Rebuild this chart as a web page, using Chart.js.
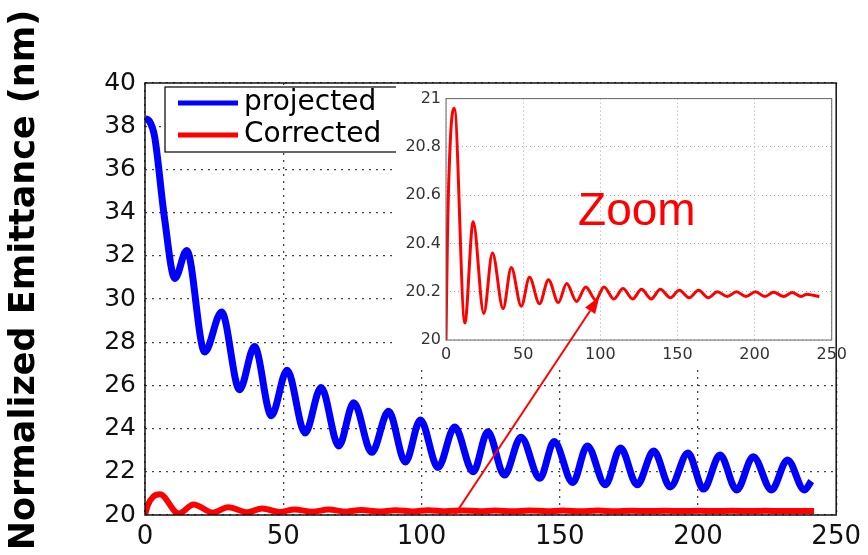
<!DOCTYPE html>
<html>
<head>
<meta charset="utf-8">
<script src="https://cdn.jsdelivr.net/npm/chart.js@4.4.1/dist/chart.umd.min.js"></script>
<style>
  html, body { margin: 0; padding: 0; background: #fff; }
  #wrap { position: relative; width: 868px; height: 555px; overflow: hidden; }
  #main { position: absolute; left: 0; top: 0; }
  #inset { position: absolute; left: 396px; top: 84px; background: #fff; }
  #overlay { position: absolute; left: 0; top: 0; pointer-events: none; }
</style>
</head>
<body>
<div id="wrap">
  <canvas id="main" width="868" height="555"></canvas>
  <canvas id="inset" width="456" height="283"></canvas>
  <canvas id="overlay" width="868" height="555"></canvas>
</div>
<script>
// values (peaks / troughs of each curve)
const projX = [0, 1.5, 3.5, 7, 10.8, 15.1, 21.6, 27.7, 34.2, 39.6, 45.7, 51.4, 57.9, 63.7, 70.1, 75.5, 82, 88.1, 94.2, 99.6,
  106, 112, 118.7, 124, 130, 136, 142.8, 148, 154.7, 160, 166.5, 172, 178, 184, 190, 196.4, 202, 208, 214, 220, 226.6, 232.4, 238.5, 241];
const projY = [38.35, 38.25, 37.5, 33.8, 30.95, 32.25, 27.55, 29.4, 25.8, 27.8, 24.6, 26.7, 23.8, 25.9, 23.2, 25.2, 22.9, 24.8, 22.45, 24.4,
  22.2, 24.07, 22.0, 23.85, 21.85, 23.6, 21.7, 23.4, 21.5, 23.2, 21.4, 23.1, 21.4, 22.96, 21.3, 22.87, 21.2, 22.78, 21.16, 22.7, 21.16, 22.55, 21.16, 21.57];

const corrX = [0, 1, 3, 5.4, 12.2, 17.6, 24.5, 30.1, 37, 42.3, 48.8, 54.1, 60.6, 66.4, 72.8, 78.2, 84.6, 90.6, 97, 102.4,
  108.8, 114.7, 121, 126.7, 133, 138.9, 145.4, 151.2, 157.6, 163.7, 170, 175.9, 182.3, 188.3, 194.4, 200.6, 206.6, 212.4, 218.9, 224.4, 230.2, 234, 238, 242];
const corrY = [20.0, 20.45, 20.85, 20.96, 20.07, 20.49, 20.11, 20.36, 20.13, 20.30, 20.14, 20.26, 20.15, 20.25, 20.155, 20.234, 20.16, 20.22, 20.166, 20.22,
  20.17, 20.213, 20.17, 20.21, 20.17, 20.21, 20.175, 20.206, 20.175, 20.206, 20.175, 20.2, 20.18, 20.2, 20.18, 20.2, 20.18, 20.198, 20.18, 20.197, 20.18, 20.19, 20.185, 20.18];

const seriesLabels = ['projected', 'Corrected'];
const mainXTicks = [0, 50, 100, 150, 200, 250];
const mainYTicks = [20, 22, 24, 26, 28, 30, 32, 34, 36, 38, 40];
const insetXTicks = [0, 50, 100, 150, 200, 250];
const insetYTicks = [20, 20.2, 20.4, 20.6, 20.8, 21];
const yTitle = 'Normalized Emittance (nm)';
const zoomText = 'Zoom';

const toPts = (xs, ys) => xs.map((x, i) => ({ x, y: ys[i] }));
const setTicks = list => s => { s.ticks = list.map(v => ({ value: v })); };

// y title + legend box drawn on the main chart
const mainDecor = {
  id: 'mainDecor',
  afterDraw(chart) {
    const ctx = chart.ctx, a = chart.chartArea;
    ctx.save();
    ctx.translate(25, 280);
    ctx.rotate(-Math.PI / 2);
    ctx.font = 'bold 35px "DejaVu Sans"';
    ctx.fillStyle = '#000';
    ctx.textAlign = 'center';
    ctx.textBaseline = 'middle';
    ctx.fillText(yTitle, 0, 0);
    ctx.restore();

    // legend
    const lx = a.left + 20, ly = a.top + 4, lw = 232, lh = 65;
    ctx.save();
    ctx.fillStyle = '#fff';
    ctx.fillRect(lx, ly, lw, lh);
    ctx.strokeStyle = '#000';
    ctx.lineWidth = 1.2;
    ctx.strokeRect(lx, ly, lw, lh);
    ctx.font = '28px "DejaVu Sans"';
    ctx.textBaseline = 'middle';
    ctx.textAlign = 'left';
    chart.data.datasets.forEach((ds, i) => {
      const y = ly + 16 + i * 32;
      ctx.strokeStyle = ds.borderColor;
      ctx.lineWidth = 5;
      ctx.beginPath();
      ctx.moveTo(lx + 13, y);
      ctx.lineTo(lx + 73, y);
      ctx.stroke();
      ctx.fillStyle = '#000';
      ctx.fillText(ds.label, lx + 79, y);
    });
    ctx.restore();
  }
};

const mainChart = new Chart(document.getElementById('main'), {
  type: 'line',
  data: {
    datasets: [
      { label: seriesLabels[0], data: toPts(projX, projY), borderColor: '#0000ff', borderWidth: 7,
        pointRadius: 0, cubicInterpolationMode: 'monotone', fill: false },
      { label: seriesLabels[1], data: toPts(corrX, corrY), borderColor: '#ff0000', borderWidth: 6,
        pointRadius: 0, cubicInterpolationMode: 'monotone', fill: false }
    ]
  },
  options: {
    responsive: false,
    animation: false,
    devicePixelRatio: 1,
    layout: { padding: { top: 83, right: 28, left: 0, bottom: 0 } },
    plugins: { legend: { display: false }, tooltip: { enabled: false } },
    scales: {
      x: {
        type: 'linear', min: 0, max: 250,
        afterBuildTicks: setTicks(mainXTicks),
        afterFit: s => { s.height = 40; },
        grid: { color: '#444', lineWidth: 1.3, drawTicks: false },
        border: { display: false, dash: [2, 5] },
        ticks: { padding: 7, color: '#111', font: { family: 'DejaVu Sans', size: 26 }, maxRotation: 0 }
      },
      y: {
        type: 'linear', min: 20, max: 40,
        afterBuildTicks: setTicks(mainYTicks),
        afterFit: s => { s.width = 145; },
        grid: { color: '#444', lineWidth: 1.3, drawTicks: false },
        border: { display: false, dash: [2, 5] },
        ticks: { padding: 9, color: '#111', font: { family: 'DejaVu Sans', size: 25 } }
      }
    }
  },
  plugins: [mainDecor]
});

// inset frame + "Zoom" label
const insetDecor = {
  id: 'insetDecor',
  afterDraw(chart) {
    const ctx = chart.ctx, a = chart.chartArea;
    ctx.save();
    ctx.strokeStyle = '#666';
    ctx.lineWidth = 1;
    ctx.strokeRect(a.left, a.top, a.right - a.left, a.bottom - a.top);
    ctx.fillStyle = '#ff0000';
    ctx.font = '46px "Liberation Sans", Arial';
    ctx.textAlign = 'center';
    ctx.textBaseline = 'middle';
    ctx.fillText(zoomText, chart.scales.x.getPixelForValue(123.7), chart.scales.y.getPixelForValue(20.53));
    ctx.restore();
  }
};

const insetChart = new Chart(document.getElementById('inset'), {
  type: 'line',
  data: {
    datasets: [
      { label: seriesLabels[1], data: toPts(corrX, corrY), borderColor: '#ff0000', borderWidth: 3,
        pointRadius: 0, cubicInterpolationMode: 'monotone', fill: false }
    ]
  },
  options: {
    responsive: false,
    animation: false,
    devicePixelRatio: 1,
    layout: { padding: { top: 9, right: 18, left: 0, bottom: 0 } },
    plugins: { legend: { display: false }, tooltip: { enabled: false } },
    scales: {
      x: {
        type: 'linear', min: 0, max: 250,
        afterBuildTicks: setTicks(insetXTicks),
        afterFit: s => { s.height = 27; },
        grid: { color: '#aaa', lineWidth: 1, drawTicks: false },
        border: { display: false, dash: [1, 3] },
        ticks: { padding: 5, color: '#333', font: { family: 'DejaVu Sans', size: 16 }, maxRotation: 0 }
      },
      y: {
        type: 'linear', min: 20, max: 21,
        afterBuildTicks: setTicks(insetYTicks),
        afterFit: s => { s.width = 50; },
        grid: { color: '#aaa', lineWidth: 1, drawTicks: false },
        border: { display: false, dash: [1, 3] },
        ticks: { padding: 5, color: '#333', font: { family: 'DejaVu Sans', size: 16 },
                 callback: v => String(+v.toFixed(1)) }
      }
    }
  },
  plugins: [insetDecor]
});

// overlay: main frame (visible through the inset) and the zoom arrow
(function () {
  const ov = document.getElementById('overlay');
  const ctx = ov.getContext('2d');
  const a = mainChart.chartArea;
  ctx.strokeStyle = '#111';
  ctx.lineWidth = 1.5;
  ctx.strokeRect(a.left, a.top, a.right - a.left, a.bottom - a.top);

  const insetEl = document.getElementById('inset');
  const ox = insetEl.offsetLeft, oy = insetEl.offsetTop;
  const x0 = mainChart.scales.x.getPixelForValue(112);
  const y0 = mainChart.scales.y.getPixelForValue(20);
  const x1 = ox + insetChart.scales.x.getPixelForValue(99.5);
  const y1 = oy + insetChart.scales.y.getPixelForValue(20.18);
  const ang = Math.atan2(y1 - y0, x1 - x0);
  const hl = 17, hw = 6;
  const bx = x1 - hl * Math.cos(ang), by = y1 - hl * Math.sin(ang);
  ctx.strokeStyle = '#ff0000';
  ctx.fillStyle = '#ff0000';
  ctx.lineWidth = 2;
  ctx.beginPath();
  ctx.moveTo(x0, y0);
  ctx.lineTo(bx, by);
  ctx.stroke();
  ctx.beginPath();
  ctx.moveTo(x1, y1);
  ctx.lineTo(bx + hw * Math.sin(ang), by - hw * Math.cos(ang));
  ctx.lineTo(bx - hw * Math.sin(ang), by + hw * Math.cos(ang));
  ctx.closePath();
  ctx.fill();
})();
</script>
</body>
</html>
